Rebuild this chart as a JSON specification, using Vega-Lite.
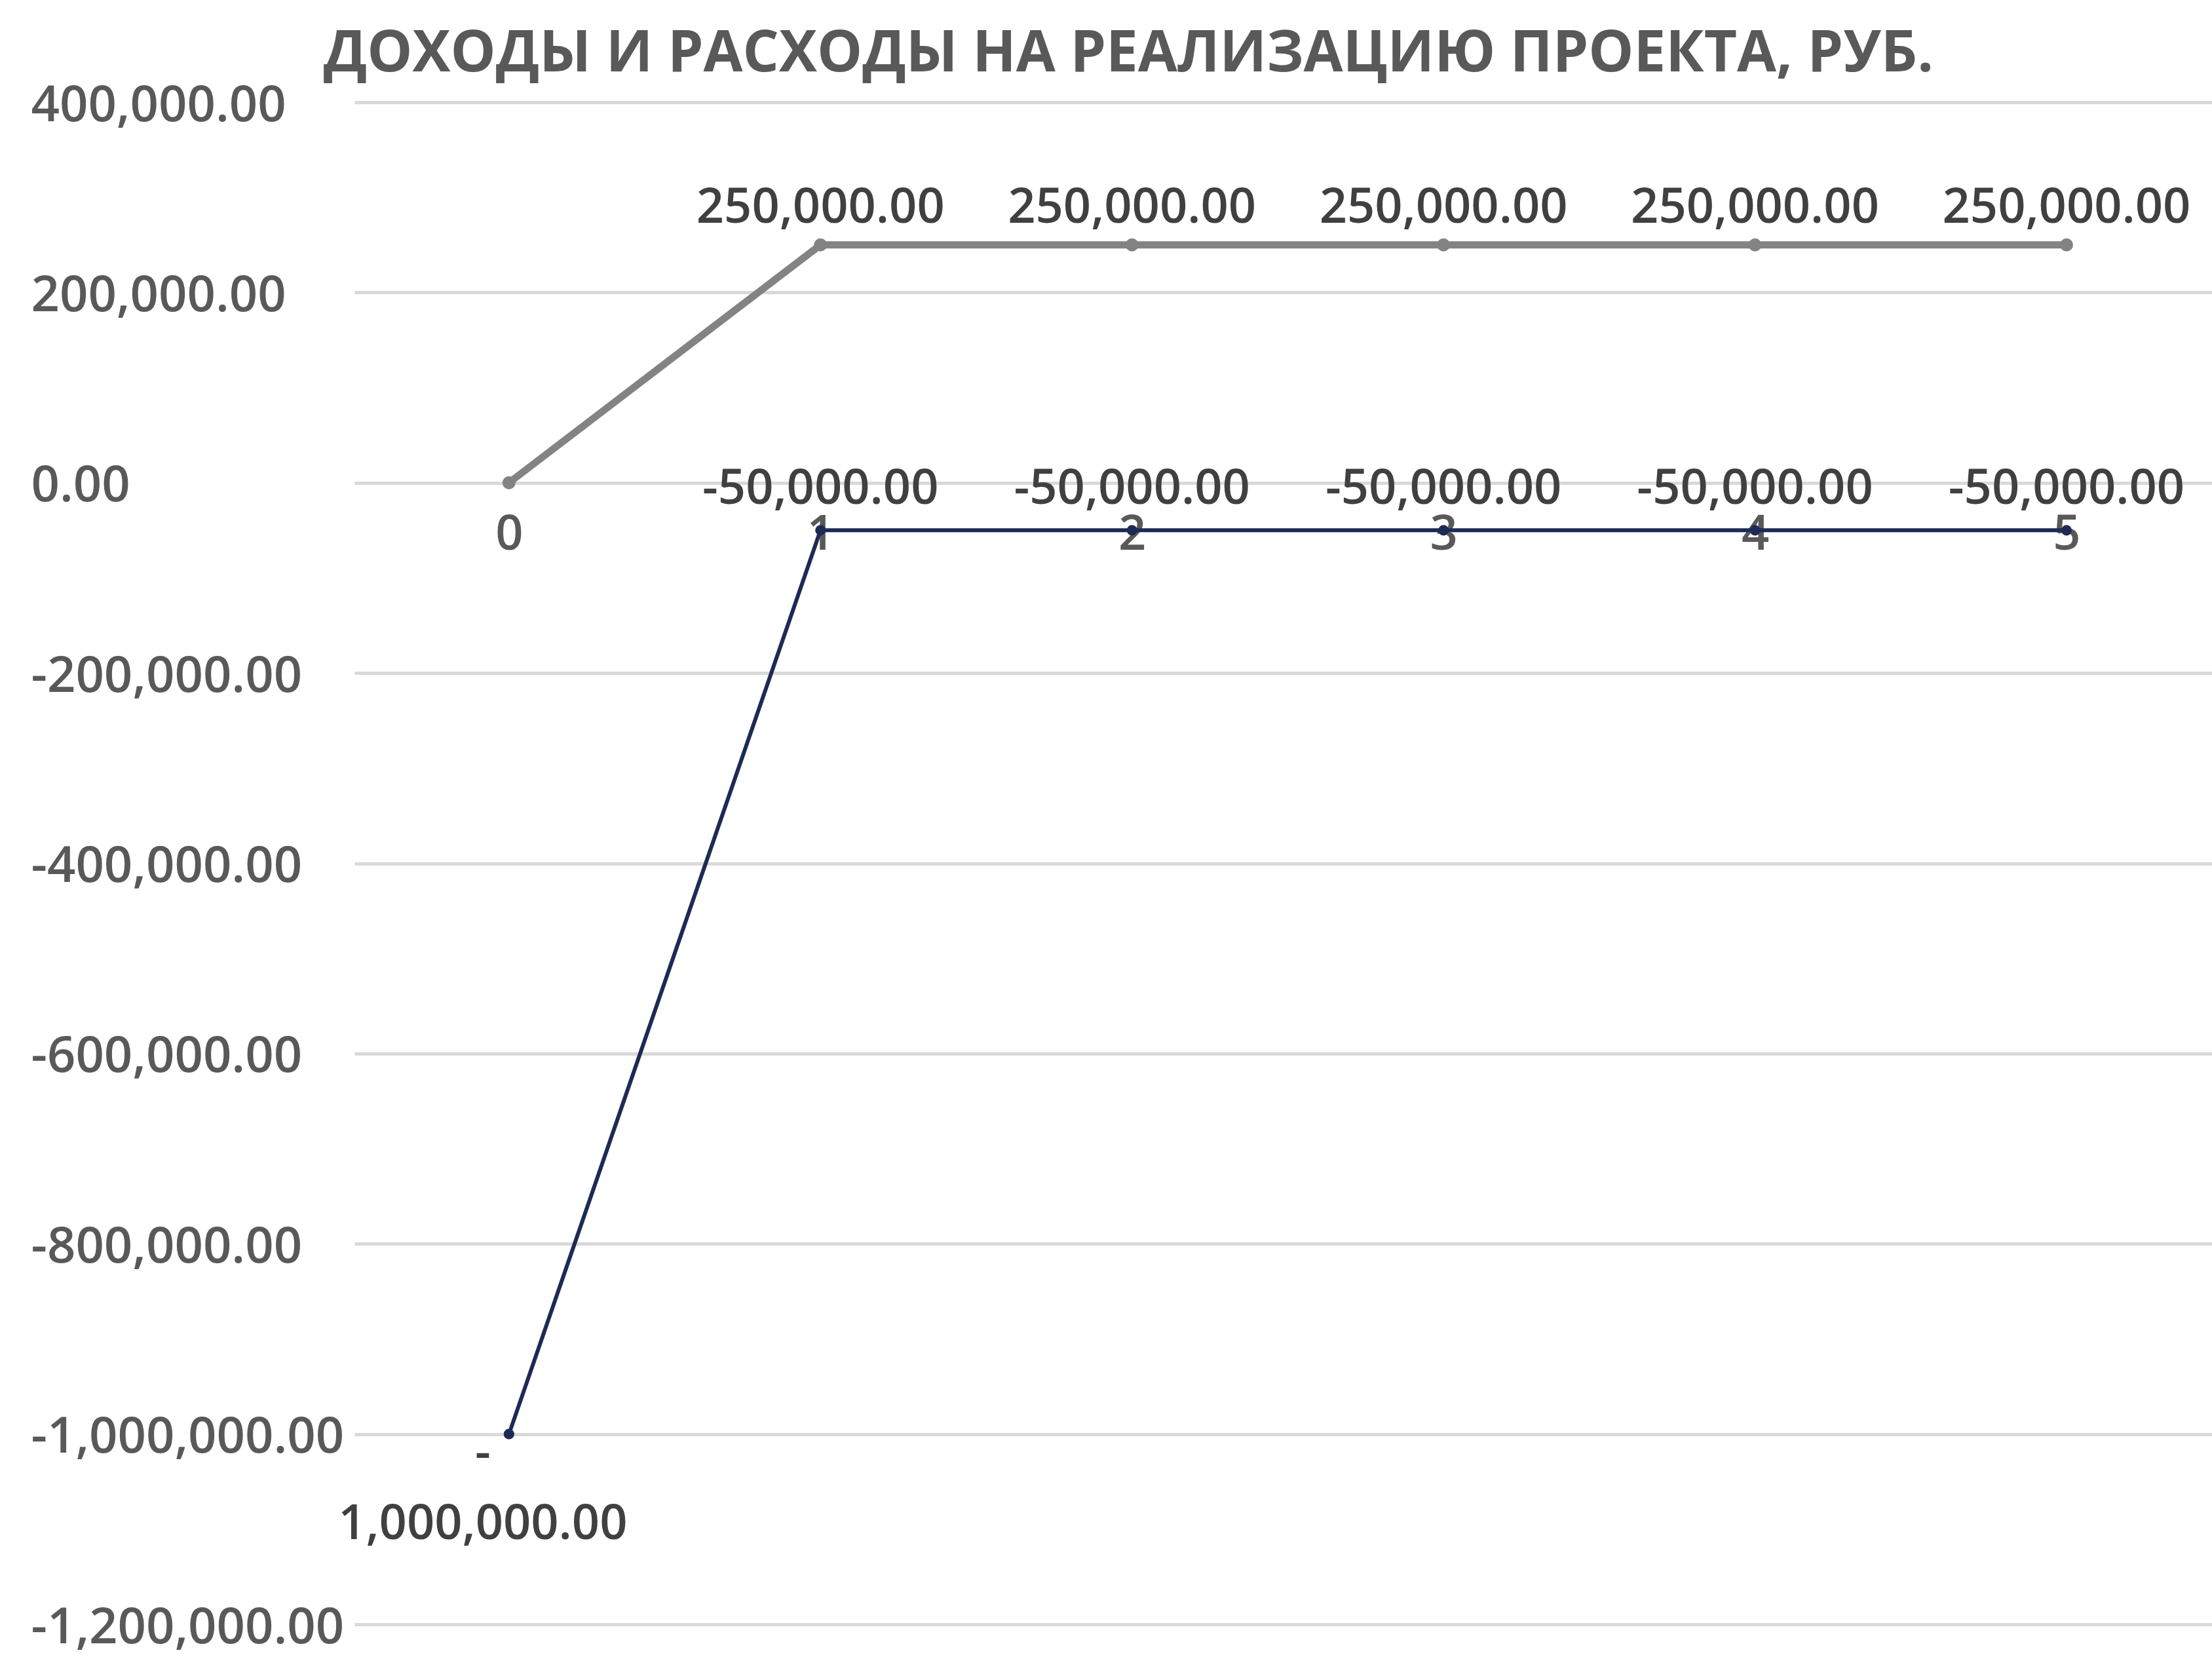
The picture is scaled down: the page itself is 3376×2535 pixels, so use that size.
{
  "$schema": "https://vega.github.io/schema/vega-lite/v6.json",
  "width": 2835,
  "height": 2323,
  "autosize": "none",
  "padding": {"left": 541, "top": 156, "right": 0, "bottom": 56},
  "background": "white",
  "config": {
    "view": {"stroke": null},
    "font": "Open Sans",
    "locale": {"number": {"decimal": ".", "thousands": ",", "grouping": [3], "currency": ["", ""], "minus": "-"}}
  },
  "title": {
    "text": "ДОХОДЫ И РАСХОДЫ НА РЕАЛИЗАЦИЮ ПРОЕКТА, РУБ.",
    "font": "Open Sans",
    "fontSize": 87,
    "fontWeight": "bold",
    "color": "#595959",
    "anchor": "middle",
    "dx": -236,
    "baseline": "alphabetic",
    "offset": -73
  },
  "data": {
    "values": [
      {"year": 0, "series": "Доходы", "value": 0},
      {"year": 1, "series": "Доходы", "value": 250000},
      {"year": 2, "series": "Доходы", "value": 250000},
      {"year": 3, "series": "Доходы", "value": 250000},
      {"year": 4, "series": "Доходы", "value": 250000},
      {"year": 5, "series": "Доходы", "value": 250000},
      {"year": 0, "series": "Расходы", "value": -1000000},
      {"year": 1, "series": "Расходы", "value": -50000},
      {"year": 2, "series": "Расходы", "value": -50000},
      {"year": 3, "series": "Расходы", "value": -50000},
      {"year": 4, "series": "Расходы", "value": -50000},
      {"year": 5, "series": "Расходы", "value": -50000}
    ]
  },
  "encoding": {
    "x": {
      "field": "year",
      "type": "quantitative",
      "scale": {"domain": [-0.496, 5.467], "nice": false, "zero": false},
      "axis": {
        "values": [0, 1, 2, 3, 4, 5],
        "format": "d",
        "title": null,
        "grid": false,
        "domain": false,
        "ticks": false,
        "offset": -1742,
        "labelFont": "Open Sans",
        "labelFontSize": 74,
        "labelFontWeight": 600,
        "labelColor": "#595959",
        "labelBaseline": "top",
        "labelPadding": 43,
        "labelFlush": false,
        "labelLimit": 0
      }
    },
    "y": {
      "field": "value",
      "type": "quantitative",
      "scale": {"domain": [-1200000, 400000], "nice": false},
      "axis": {
        "values": [-1200000, -1000000, -800000, -600000, -400000, -200000, 0, 200000, 400000],
        "format": ",.2f",
        "title": null,
        "domain": false,
        "ticks": false,
        "grid": true,
        "gridColor": "#d9d9d9",
        "gridWidth": 5,
        "labelFont": "Open Sans",
        "labelFontSize": 76,
        "labelFontWeight": 600,
        "labelColor": "#595959",
        "labelAlign": "left",
        "labelBaseline": "middle",
        "labelOffset": 5,
        "labelPadding": 494,
        "labelLimit": 0
      }
    }
  },
  "layer": [
    {
      "mark": {"type": "line", "interpolate": "linear"},
      "encoding": {
        "color": {
          "field": "series",
          "type": "nominal",
          "scale": {"domain": ["Доходы", "Расходы"], "range": ["#838383", "#1d2a55"]},
          "legend": null
        },
        "strokeWidth": {
          "field": "series",
          "type": "nominal",
          "scale": {"domain": ["Доходы", "Расходы"], "range": [11, 6]},
          "legend": null
        }
      }
    },
    {
      "mark": {"type": "point", "filled": true, "opacity": 1},
      "encoding": {
        "color": {
          "field": "series",
          "type": "nominal",
          "scale": {"domain": ["Доходы", "Расходы"], "range": ["#838383", "#1d2a55"]},
          "legend": null
        },
        "size": {
          "field": "series",
          "type": "nominal",
          "scale": {"domain": ["Доходы", "Расходы"], "range": [400, 260]},
          "legend": null
        }
      }
    },
    {
      "transform": [{"filter": "datum.year > 0 && datum.series == 'Доходы'"}],
      "mark": {"type": "text", "font": "Open Sans", "fontSize": 74, "fontWeight": 600, "color": "#404040", "baseline": "middle", "align": "center", "dy": -56},
      "encoding": {
        "text": {"field": "value", "type": "quantitative", "format": ",.2f"}
      }
    },
    {
      "transform": [{"filter": "datum.year > 0 && datum.series == 'Расходы'"}],
      "mark": {"type": "text", "font": "Open Sans", "fontSize": 74, "fontWeight": 600, "color": "#404040", "baseline": "middle", "align": "center", "dy": -62},
      "encoding": {
        "text": {"field": "value", "type": "quantitative", "format": ",.2f"}
      }
    },
    {
      "transform": [{"filter": "datum.year == 0 && datum.series == 'Расходы'"}],
      "mark": {"type": "text", "font": "Open Sans", "fontSize": 74, "fontWeight": 600, "color": "#404040", "baseline": "top", "align": "center", "dx": -40, "dy": -6, "lineHeight": 108},
      "encoding": {
        "text": {"value": ["-", "1,000,000.00"]}
      }
    }
  ]
}
